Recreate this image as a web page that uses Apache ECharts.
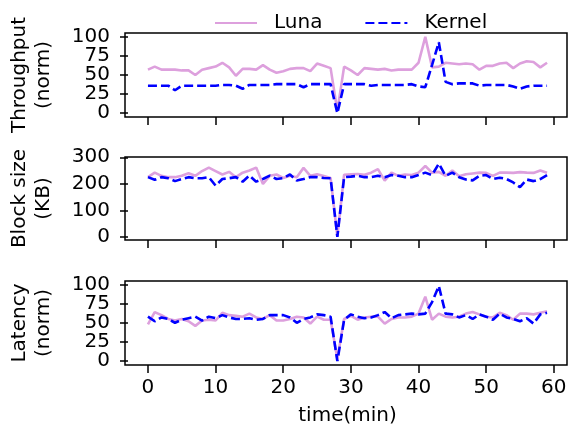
<!doctype html>
<html>
<head>
	<meta charset="UTF-8">
	<title>Luna vs Kernel</title>
	<script src="https://cdn.jsdelivr.net/npm/echarts@6/dist/echarts.min.js"></script>
	<style>
		html, body { margin: 0; padding: 0; background: #fff; }
		#chart { width: 571px; height: 433px; }
	</style>
</head>
<body>
<div id="chart"></div>
<script>
	// time axis (minutes)
	var times = [0,1,2,3,4,5,6,7,8,9,10,11,12,13,14,15,16,17,18,19,20,21,22,23,24,25,26,27,28,29,
		30,31,32,33,34,35,36,37,38,39,40,41,42,43,44,45,46,47,48,49,50,51,52,53,54,55,56,57,58,59];
	var xTicks = [0, 10, 20, 30, 40, 50, 60];

	// throughput (norm)
	var lunaThr = [57,61,57,57,57,56,56,50,57,59,61,66,60,49,58,58,57,63,57,53,55,58,59,59,55,65,62,59,3,61,
		56,50,59,58,57,58,56,57,57,57,66,100,60,61,66,65,64,65,64,57,62,62,65,66,59,65,68,67,60,66];
	var kernelThr = [36,36,36,36,30,36,36,36,36,36,36,37,37,36,32,37,37,37,37,38,38,38,38,34,38,38,38,38,0,38,
		38,38,38,36,37,37,37,37,37,38,35,34,63,93,41,38,39,39,39,36,37,37,37,37,35,32,35,36,36,36];
	var thrTicks = [0, 25, 50, 75, 100];

	// block size (KB)
	var lunaBlk = [225,242,230,225,225,230,240,230,248,261,248,235,245,225,242,250,261,199,230,235,222,230,225,260,230,236,229,222,2,234,
		236,237,234,242,255,212,242,230,235,233,242,267,242,245,230,250,228,236,239,242,241,230,242,242,241,244,242,241,250,242];
	var kernelBlk = [225,215,225,221,210,218,225,221,221,225,193,218,221,225,208,231,208,218,231,218,221,235,212,218,225,225,222,221,0,225,
		227,230,225,225,230,225,233,230,225,225,233,242,233,276,230,242,225,216,213,230,233,218,223,218,205,187,216,210,218,233];
	var blkTicks = [0, 100, 200, 300];

	// latency (norm)
	var lunaLat = [48,64,60,55,53,55,52,46,53,54,53,63,60,59,58,62,57,55,60,53,53,55,58,57,49,58,54,54,3,55,
		59,54,57,58,58,49,55,57,57,58,62,84,54,62,58,57,58,62,64,61,58,57,63,60,54,62,62,61,63,65];
	var kernelLat = [58,52,57,55,50,54,56,58,53,58,56,60,57,55,55,56,54,55,60,60,60,57,50,55,57,61,60,58,0,54,
		61,58,56,57,60,64,56,60,61,62,61,62,77,98,62,61,57,60,55,61,58,54,62,57,55,52,56,49,61,63];
	var latTicks = [0, 25, 50, 75, 100];

	var FONT = "DejaVu Sans";
	var LUNA = "#dda0dd", KERNEL = "#0000ff";
	var PANELS = [{ top: 33, height: 84 }, { top: 157, height: 83 }, { top: 281, height: 84 }];
	var LEFT = 125, RIGHT = 4, W = 571;

	function ax() { return { color: "#000", width: 1.5 }; }

	function pairs(ys) {
		return ys.map(function (y, i) { return [times[i], y]; });
	}

	function xAxis(idx, showLabels) {
		return {
			type: "value", gridIndex: idx, min: -2.95, max: 61.95,
			name: showLabels ? "time(min)" : "", nameLocation: "middle", nameGap: 41,
			nameTextStyle: { fontFamily: FONT, fontSize: 20, color: "#000" },
			splitLine: { show: false },
			axisLine: { show: false, onZero: false },
			axisTick: { show: true, inside: false, length: 8, customValues: xTicks, lineStyle: ax() },
			axisLabel: {
				show: showLabels, customValues: xTicks, margin: 13,
				fontFamily: FONT, fontSize: 20, color: "#000"
			}
		};
	}

	function yAxis(idx, name, min, max, ticks) {
		return {
			type: "value", gridIndex: idx, min: min, max: max, position: "left",
			name: name, nameLocation: "middle", nameRotate: 90, nameGap: 72,
			nameTextStyle: { fontFamily: FONT, fontSize: 20, color: "#000", lineHeight: 24, align: "center" },
			splitLine: { show: false },
			axisLine: { show: false, onZero: false },
			axisTick: { show: true, inside: false, length: 8, customValues: ticks, lineStyle: ax() },
			axisLabel: {
				customValues: ticks, margin: 18, showMinLabel: true, showMaxLabel: true,
				fontFamily: FONT, fontSize: 20, color: "#000"
			}
		};
	}

	// the tick values are packed tight, so every other one goes on a twin axis
	function split(ticks, odd) {
		return ticks.filter(function (t, i) { return (i % 2 === 1) === odd; });
	}

	function line(name, idx, ys) {
		var luna = name === "Luna";
		return {
			name: name, type: "line", xAxisIndex: idx, yAxisIndex: idx,
			data: pairs(ys), symbol: "none", showSymbol: false, animation: false, z: luna ? 2 : 3,
			itemStyle: { color: luna ? LUNA : KERNEL },
			lineStyle: { color: luna ? LUNA : KERNEL, width: 2.6, type: luna ? "solid" : [9, 4] }
		};
	}

	// box around every panel
	var frames = PANELS.map(function (p) {
		return {
			type: "rect", z: 100, silent: true,
			shape: { x: LEFT, y: p.top, width: W - LEFT - RIGHT, height: p.height },
			style: { fill: null, stroke: "#000", lineWidth: 1.5 }
		};
	});

	var option = {
		backgroundColor: "#fff",
		animation: false,
		legend: {
			data: ["Luna", "Kernel"], left: 209, top: 8,
			itemWidth: 42, itemHeight: 14, itemGap: 42,
			itemStyle: { opacity: 0 },
			textStyle: { fontFamily: FONT, fontSize: 20, color: "#000", padding: [0, 0, 0, 12] }
		},
		graphic: frames,
		grid: PANELS.map(function (p) {
			return { left: LEFT, right: RIGHT, top: p.top, height: p.height };
		}),
		xAxis: [xAxis(0, false), xAxis(1, false), xAxis(2, true)],
		yAxis: [
			yAxis(0, "Throughput\n(norm)", -5, 105, split(thrTicks, false)),
			yAxis(1, "Block size\n(KB)", -12, 301, blkTicks),
			yAxis(2, "Latency\n(norm)", -5, 104.5, split(latTicks, false)),
			yAxis(0, "", -5, 105, split(thrTicks, true)),
			yAxis(2, "", -5, 104.5, split(latTicks, true))
		],
		series: [
			line("Luna", 0, lunaThr), line("Kernel", 0, kernelThr),
			line("Luna", 1, lunaBlk), line("Kernel", 1, kernelBlk),
			line("Luna", 2, lunaLat), line("Kernel", 2, kernelLat)
		]
	};

	var chart = echarts.init(document.getElementById("chart"));
	chart.setOption(option);
</script>
</body>
</html>
